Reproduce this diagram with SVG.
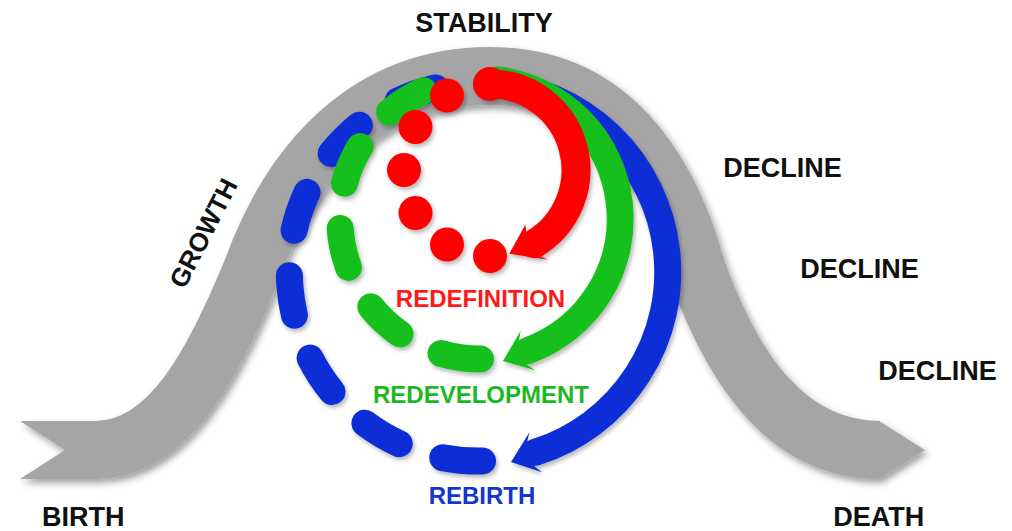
<svg xmlns="http://www.w3.org/2000/svg" width="1012" height="531" viewBox="0 0 1012 531">
<defs>
<filter id="sh" x="-10%" y="-10%" width="120%" height="120%">
<feDropShadow dx="3" dy="4" stdDeviation="3.5" flood-color="#000" flood-opacity="0.38"/>
</filter>
<filter id="sh2" x="-10%" y="-10%" width="120%" height="120%">
<feDropShadow dx="2" dy="3" stdDeviation="2" flood-color="#000" flood-opacity="0.28"/>
</filter>
<style>
.lbl{font-family:"Liberation Sans",Arial,sans-serif;font-weight:bold;font-size:27px;fill:#111;text-anchor:middle}
.sm{font-size:24px}
.band{fill:none;stroke:#a5a5a5;stroke-width:58}
.arc{fill:none;stroke-width:27;stroke-linecap:round}
.red{stroke:#ff0000;stroke-width:29}
.grn{stroke:#16c01a}
.blu{stroke:#0a2ed6}
</style>
</defs>
<rect width="1012" height="531" fill="#fff"/>
<g id="band" filter="url(#sh)" fill="#a5a5a5">
<path class="band" d="M64,450 L95,450 C170,450 215,360 252,270 C290,165 365,76 490,76 C608,76 668,165 697,270 C735,375 790,450 880,450"/>
<polygon points="20,421 66,421 66,479 20,479 65,450"/>
<polygon points="879,421 925,450 879,479"/>
</g>
<g id="connectors" filter="url(#sh2)">
<g id="rebirth-loop">
<path class="arc blu" d="M482.5,461 A189,189 0 0 1 452.7,84.8" stroke-dasharray="40 45.77"/>
<path class="arc blu" d="M492.2,83.5 A189,189 0 0 1 535.8,452.2"/>
<polygon fill="#0a2ed6" points="511,462 542.1,472.3 534.8,466.7 527.4,440.7 529.5,432.2"/>
</g>
<g id="redevelopment-loop">
<path class="arc grn" d="M480.5,359 A140,140 0 0 1 432.1,87.4" stroke-dasharray="40 45.52"/>
<path class="arc grn" d="M497.1,80 A140,140 0 0 1 527.9,350.6"/>
<polygon fill="#16c01a" points="503,361 535.1,370.3 527.4,365 519.1,339.3 520.7,330.8"/>
</g>
<g id="redefinition-loop" fill="#ff0000">
<circle cx="490" cy="256" r="17"/>
<circle cx="447" cy="244.5" r="17"/>
<circle cx="415.5" cy="213" r="17"/>
<circle cx="404" cy="170" r="17"/>
<circle cx="415.5" cy="127" r="17"/>
<circle cx="447" cy="95.5" r="17"/>
<path class="arc red" d="M490,84 A86,86 0 0 1 534.3,243.7"/>
<circle cx="490" cy="84" r="17"/>
<polygon points="509.3,253.8 548.3,259.7 539.8,256.2 526.3,232.8 525.4,224.5"/>
</g>
</g>
<g id="labels">
<text id="stability" class="lbl" x="484" y="32">STABILITY</text>
<text id="decline1" class="lbl" x="782.5" y="177">DECLINE</text>
<text id="decline2" class="lbl" x="859.6" y="278">DECLINE</text>
<text id="decline3" class="lbl" x="937.5" y="380">DECLINE</text>
<text id="birth" class="lbl" x="83.3" y="526">BIRTH</text>
<text id="death" class="lbl" x="878.8" y="526">DEATH</text>
<g id="growth" transform="translate(203,233) rotate(-63)"><text class="lbl" x="0" y="9.3" style="font-size:26px">GROWTH</text></g>
<text id="redefinition" class="lbl sm" x="480.5" y="306.5" style="fill:#ff1a1a">REDEFINITION</text>
<text id="redevelopment" class="lbl sm" x="481" y="403" style="fill:#1cb81f">REDEVELOPMENT</text>
<text id="rebirth" class="lbl sm" x="482" y="504" style="fill:#1236d0">REBIRTH</text>
</g>
</svg>
